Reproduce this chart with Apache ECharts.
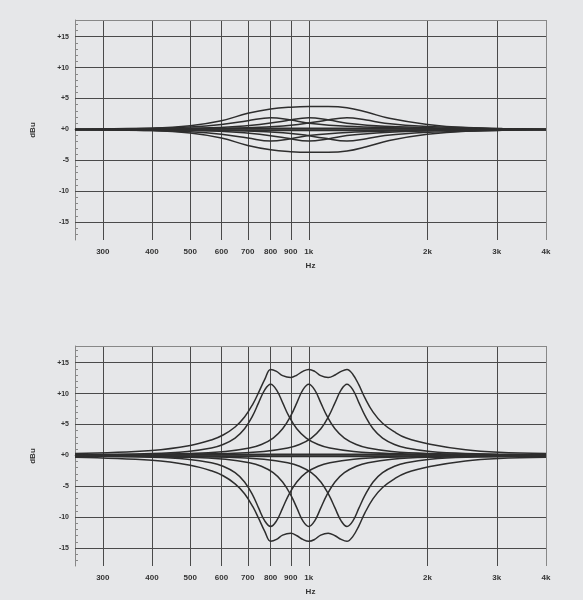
<!DOCTYPE html>
<html><head><meta charset="utf-8">
<script src="https://cdn.jsdelivr.net/npm/echarts@6/dist/echarts.min.js"></script>
<style>html,body{margin:0;background:#e6e7e9}#c{width:583px;height:600px}</style>
</head><body><div id="c"></div>
<script>
const xTicks=[300,400,500,600,700,800,900,1000,2000,3000,4000];
const xTickLabels=['300','400','500','600','700','800','900','1k','2k','3k','4k'];
const yTicks=[-15,-10,-5,0,5,10,15];
const yTickLabels=['-15','-10','-5','+0','+5','+10','+15'];
// top chart: small boost/cut
const topF800=[255,400,500,600,700,800,900,1000,1250,2000,4000];
const topV800=[0,0.2,0.4,0.8,1.4,1.9,1.5,1.0,0.5,0.15,0];
const topF1k=[255,500,625,750,875,1000,1125,1250,1560,2500,4000];
const topV1k=[0,0.2,0.4,0.8,1.4,1.9,1.5,1.0,0.5,0.15,0];
const topF1250=[255,625,780,940,1090,1250,1400,1560,1950,3100,4000];
const topV1250=[0,0.2,0.4,0.8,1.4,1.9,1.5,1.0,0.5,0.15,0];
const topFSum=[255,400,500,600,700,800,900,1000,1120,1250,1400,1600,2000,2500,4000];
const topVSum=[0,0.2,0.6,1.4,2.6,3.3,3.6,3.7,3.7,3.5,2.8,1.8,0.8,0.3,0];
// bottom chart: large boost/cut
const botF800=[255,400,492,566,606,650,687,721,746,773,800,828,858,888,932,985,1056,1131,1300,1600,2424,4000];
const botV800=[0.12,0.32,0.64,1.19,1.76,2.8,4.3,6.47,8.54,10.6,11.5,10.6,8.54,6.47,4.3,2.8,1.76,1.19,0.64,0.32,0.13,0.06];
const botF1k=[255,500,615,707,758,812,858,901,933,966,1000,1035,1072,1110,1165,1231,1320,1414,1625,2000,3030,4000];
const botV1k=[0.08,0.32,0.64,1.19,1.76,2.8,4.3,6.47,8.54,10.6,11.5,10.6,8.54,6.47,4.3,2.8,1.76,1.19,0.64,0.32,0.13,0.08];
const botF1250=[255,625,769,884,947,1015,1073,1126,1166,1208,1250,1294,1340,1388,1456,1539,1650,1768,2031,2500,3788,4000];
const botV1250=[0.06,0.32,0.64,1.19,1.76,2.8,4.3,6.47,8.54,10.6,11.5,10.6,8.54,6.47,4.3,2.8,1.76,1.19,0.64,0.32,0.13,0.12];
const botFSum=[255,400,500,566,606,650,687,721,746,773,800,828,858,900,933,966,1000,1035,1072,1120,1166,1208,1250,1294,1340,1388,1456,1539,1650,1768,2031,2500,3030,4000];
const botVSum=[0.3,0.8,1.6,2.5,3.3,4.6,6.2,8.3,10.2,12.3,13.9,13.6,12.9,12.6,13.0,13.6,13.9,13.6,12.9,12.6,13.0,13.6,13.9,13.1,11.4,9.3,7.0,5.2,3.8,2.8,1.8,0.9,0.5,0.3];
const flatF=[255,600,1000,2000,4000];
const flatV=[0,0.15,0.2,0.1,0];

const pairs=(f,v,s)=>f.map((x,i)=>[x,s*v[i]]);
const lineStyle={color:'#2e2e2e',width:1.5};
function curves(idx,sets){
  const out=[];
  sets.forEach(([f,v])=>{[1,-1].forEach(s=>out.push({type:'line',xAxisIndex:idx,yAxisIndex:idx,data:pairs(f,v,s),smooth:0.4,symbol:'none',lineStyle,silent:true,z:5}));});
  return out;
}
function gridSeries(idx){
  return {type:'line',xAxisIndex:idx,yAxisIndex:idx,data:[],silent:true,
    markLine:{silent:true,symbol:'none',label:{show:false},lineStyle:{color:'#4a4a4a',width:1,type:'solid'},
      data:[...xTicks.filter(t=>t<4000).map(t=>({xAxis:t})),...yTicks.map(t=>({yAxis:t}))]}};
}
const grids=[{left:75,right:37,top:20,height:220},{left:75,right:37,top:346,height:220}];
const xAxes=[0,1].map(i=>({type:'log',gridIndex:i,min:255,max:4000,logBase:10,
  name:'Hz',nameLocation:'middle',nameGap:22,nameTextStyle:{fontSize:8,fontWeight:'bold',color:'#333'},
  axisLine:{lineStyle:{color:'#888'}},splitLine:{show:false},axisTick:{show:false},
  axisLabel:{customValues:xTicks,fontSize:8,fontWeight:'bold',color:'#333',margin:8,
    formatter:v=>{const k=xTicks.findIndex(t=>Math.abs(t-v)<1);return k<0?'':xTickLabels[k];}}}));
const yAxes=[0,1].map(i=>({type:'value',gridIndex:i,min:-17.9,max:17.7,
  name:'dBu',nameLocation:'middle',nameRotate:90,nameGap:38,nameTextStyle:{fontSize:8,fontWeight:'bold',color:'#333'},
  axisLine:{show:true,lineStyle:{color:'#888'}},splitLine:{show:false},
  axisTick:{show:true,inside:true,length:3,customValues:Array.from({length:35},(_,k)=>k-17),lineStyle:{color:'#888'}},
  axisLabel:{customValues:yTicks,fontSize:7,fontWeight:'bold',color:'#333',margin:6,
    formatter:v=>{const k=yTicks.findIndex(t=>Math.abs(t-v)<0.01);return k<0?'':yTickLabels[k];}}}));
const frames=[0,1].map(i=>({type:'line',xAxisIndex:i,yAxisIndex:i,data:[],silent:true,
  markLine:{silent:true,symbol:'none',label:{show:false},lineStyle:{color:'#888',width:1,type:'solid'},data:[{yAxis:17.7},{xAxis:4000}]}}));
const series=[gridSeries(0),gridSeries(1),...frames,
  ...curves(0,[[topF800,topV800],[topF1k,topV1k],[topF1250,topV1250],[topFSum,topVSum],[flatF,flatV]]),
  ...curves(1,[[botF800,botV800],[botF1k,botV1k],[botF1250,botV1250],[botFSum,botVSum],[flatF,flatV]])];
const chart=echarts.init(document.getElementById('c'));
chart.setOption({backgroundColor:'#e6e7e9',animation:false,grid:grids,xAxis:xAxes,yAxis:yAxes,series});
</script></body></html>
